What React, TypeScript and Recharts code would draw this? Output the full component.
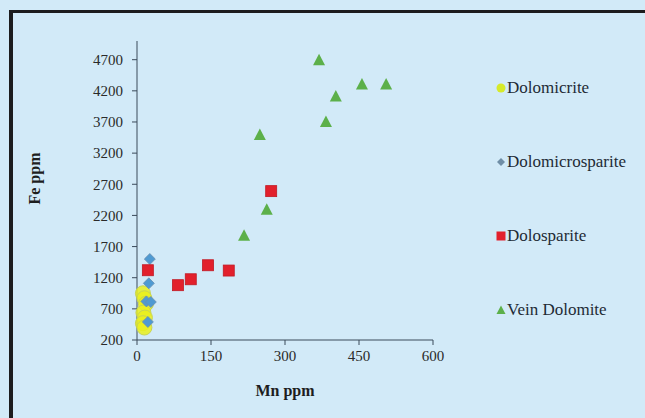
import { ScatterChart, Scatter, XAxis, YAxis, Legend, Label } from "recharts";

const mnTicks = [0, 150, 300, 450, 600];
const feTicks = [200, 700, 1200, 1700, 2200, 2700, 3200, 3700, 4200, 4700];

const dolomicriteMn = [12, 15, 18, 13, 16, 12, 15];
const dolomicriteFe = [950, 870, 780, 640, 560, 470, 400];

const dolomicrosparMn = [26, 24, 19, 28, 22];
const dolomicrosparFe = [1500, 1110, 820, 810, 490];

const dolosparMn = [22, 83, 109, 144, 186, 272];
const dolosparFe = [1320, 1080, 1175, 1400, 1315, 2590];

const veinMn = [217, 249, 263, 369, 383, 403, 456, 505];
const veinFe = [1875, 3490, 2290, 4690, 3700, 4110, 4300, 4300];

const zip = (xs: number[], ys: number[]) => xs.map((x, i) => ({ x, y: ys[i] }));

const font = "'Liberation Serif', 'Times New Roman', serif";

function CircleDot(props: any) {
  const { cx, cy } = props;
  return <circle cx={cx} cy={cy} r={7.5} fill="#eaf01c" fillOpacity={0.85} stroke="#c8d454" strokeWidth={1} />;
}

function DiamondDot(props: any) {
  const { cx, cy } = props;
  const h = 5.5;
  return (
    <polygon
      points={`${cx},${cy - h} ${cx + h},${cy} ${cx},${cy + h} ${cx - h},${cy}`}
      fill="#4f9ad2"
      stroke="#6a8fae"
      strokeWidth={0.8}
    />
  );
}

function SquareDot(props: any) {
  const { cx, cy } = props;
  return <rect x={cx - 5.5} y={cy - 5.5} width={11} height={11} fill="#e2202c" stroke="#c01a24" strokeWidth={0.8} />;
}

function TriangleDot(props: any) {
  const { cx, cy } = props;
  return <polygon points={`${cx},${cy - 6.5} ${cx + 6},${cy + 5} ${cx - 6},${cy + 5}`} fill="#5cb04a" />;
}

const series = [
  { name: "Dolomicrite", data: zip(dolomicriteMn, dolomicriteFe), kind: "circle", legendFill: "#d6ea2a", dot: <CircleDot /> },
  { name: "Dolomicrosparite", data: zip(dolomicrosparMn, dolomicrosparFe), kind: "diamond", legendFill: "#6f8ea6", dot: <DiamondDot /> },
  { name: "Dolosparite", data: zip(dolosparMn, dolosparFe), kind: "square", legendFill: "#e2202c", dot: <SquareDot /> },
  { name: "Vein Dolomite", data: zip(veinMn, veinFe), kind: "triangle", legendFill: "#5cb04a", dot: <TriangleDot /> },
];

function LegendMarker({ kind, fill }: { kind: string; fill: string }) {
  if (kind === "circle") return <circle cx={5} cy={6} r={4.5} fill={fill} />;
  if (kind === "diamond") return <polygon points="5,2 9,6 5,10 1,6" fill={fill} />;
  if (kind === "square") return <rect x={0.5} y={1.5} width={9} height={9} fill={fill} />;
  return <polygon points="5,1.5 9.5,10 0.5,10" fill={fill} />;
}

function SideLegend() {
  return (
    <div style={{ fontFamily: font, fontSize: 17, lineHeight: "20px", color: "#1e2a35" }}>
      {series.map((s) => (
        <div key={s.name} style={{ height: 74, display: "flex", alignItems: "flex-start" }}>
          <svg width={11} height={12} style={{ marginTop: 4 }}>
            <LegendMarker kind={s.kind} fill={s.legendFill} />
          </svg>
          <span>{s.name}</span>
        </div>
      ))}
    </div>
  );
}

export default function App() {
  return (
    <div style={{ position: "absolute", left: 0, top: 0, width: 645, height: 418, background: "#d2eaf8", overflow: "hidden" }}>
      <div
        style={{
          position: "absolute",
          left: 9,
          top: 10,
          width: 700,
          height: 500,
          borderLeft: "4px solid #1c1c1e",
          borderTop: "3px solid #1c1c1e",
        }}
      />
      <ScatterChart width={645} height={418} margin={{ top: 41, right: 63, bottom: 22, left: 20 }}>
        <XAxis
          type="number"
          dataKey="x"
          domain={[0, 600]}
          ticks={mnTicks}
          tickSize={5}
          tickMargin={5}
          height={56}
          stroke="#3a4a5a"
          tick={{ fill: "#2a2a2a", fontSize: 15, fontFamily: font }}
        >
          <Label
            value="Mn ppm"
            position="insideBottom"
            offset={0}
            style={{ fontFamily: font, fontWeight: "bold", fontSize: 16, fill: "#1e1e1e" }}
          />
        </XAxis>
        <YAxis
          type="number"
          dataKey="y"
          domain={[200, 5000]}
          ticks={feTicks}
          tickSize={5}
          tickMargin={9}
          width={117}
          stroke="#3a4a5a"
          tick={{ fill: "#2a2a2a", fontSize: 15, fontFamily: font }}
        >
          <Label
            content={(props: any) => {
              const vb = props.viewBox || {};
              const cx = vb.x + 14;
              const cy = vb.y + vb.height / 2 - 12;
              return (
                <text
                  x={cx}
                  y={cy}
                  transform={`rotate(-90, ${cx}, ${cy})`}
                  textAnchor="middle"
                  dominantBaseline="central"
                  style={{ fontFamily: font, fontWeight: "bold", fontSize: 16, fill: "#1e1e1e" }}
                >
                  Fe ppm
                </text>
              );
            }}
          />
        </YAxis>
        {series.map((s) => (
          <Scatter
            key={s.name}
            name={s.name}
            data={s.data}
            shape={s.dot}
            isAnimationActive={false}
          />
        ))}
        <Legend
          layout="vertical"
          verticalAlign="top"
          align="right"
          wrapperStyle={{ left: 496, top: 78, width: 149 }}
          content={() => <SideLegend />}
        />
      </ScatterChart>
    </div>
  );
}
